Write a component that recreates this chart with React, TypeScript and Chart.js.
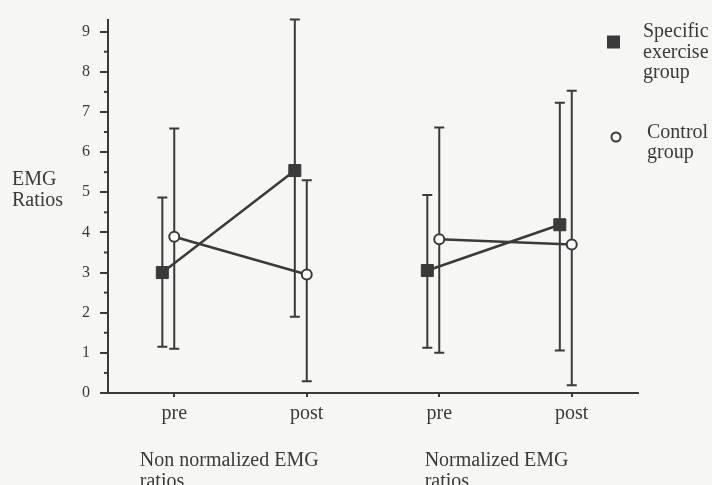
import React, { useEffect, useRef } from 'react';
import { Chart, registerables } from 'chart.js';

Chart.register(...registerables);

// ---- data ----
const categories = ['pre', 'post', 'pre', 'post'];
const groupLabels = [
  ['Non normalized EMG', 'ratios'],
  ['Normalized EMG', 'ratios'],
];
const yTitle = ['EMG', 'Ratios'];
const exerciseLabel = ['Specific', 'exercise', 'group'];
const controlLabel = ['Control', 'group'];
const yTicks = [0, 1, 2, 3, 4, 5, 6, 7, 8, 9];
const yMinorTicks = [0.5, 1.5, 2.5, 3.5, 4.5, 5.5, 6.5, 7.5, 8.5];

const exerciseMean = [3.0, 5.54, 3.05, 4.19];
const exerciseHigh = [4.87, 9.3, 4.93, 7.23];
const exerciseLow = [1.15, 1.9, 1.13, 1.06];

const controlMean = [3.89, 2.95, 3.83, 3.7];
const controlHigh = [6.59, 5.3, 6.61, 7.53];
const controlLow = [1.1, 0.29, 1.0, 0.19];

// ---- style ----
const INK = '#3a3a3a';
const BG = '#f6f6f4';
const FONT = '"Liberation Serif", "Times New Roman", serif';
const SQ_OFF = -0.09;
const GROUP_LABEL_X = [0.74, 2.89];

export default function App() {
  const ref = useRef<HTMLCanvasElement>(null);

  useEffect(() => {
    document.body.style.margin = '0';
    document.body.style.background = BG;
    const canvas = ref.current!;

    const overlay = {
      id: 'overlay',
      beforeDraw(chart: any) {
        const ctx = chart.ctx;
        ctx.save();
        ctx.fillStyle = BG;
        ctx.fillRect(0, 0, chart.width, chart.height);
        ctx.restore();
      },
      beforeDatasetsDraw(chart: any) {
        const ctx = chart.ctx;
        const xs = chart.scales.x;
        const ys = chart.scales.y;
        ctx.save();
        ctx.strokeStyle = INK;
        ctx.lineWidth = 2;
        const bars = (mean: number[], hi: number[], lo: number[], off: number) => {
          mean.forEach((_, i) => {
            const x = xs.getPixelForValue(i + 1 + off);
            const y1 = ys.getPixelForValue(hi[i]);
            const y2 = ys.getPixelForValue(lo[i]);
            ctx.beginPath();
            ctx.moveTo(x, y1);
            ctx.lineTo(x, y2);
            ctx.moveTo(x - 5, y1);
            ctx.lineTo(x + 5, y1);
            ctx.moveTo(x - 5, y2);
            ctx.lineTo(x + 5, y2);
            ctx.stroke();
          });
        };
        bars(exerciseMean, exerciseHigh, exerciseLow, SQ_OFF);
        bars(controlMean, controlHigh, controlLow, 0);
        // minor ticks on y axis
        const left = chart.chartArea.left;
        yMinorTicks.forEach((v) => {
          const y = ys.getPixelForValue(v);
          ctx.beginPath();
          ctx.moveTo(left - 4, y);
          ctx.lineTo(left, y);
          ctx.stroke();
        });
        ctx.restore();
      },
      afterDraw(chart: any) {
        const ctx = chart.ctx;
        const xs = chart.scales.x;
        ctx.save();
        ctx.fillStyle = INK;
        ctx.font = `20px ${FONT}`;
        ctx.textAlign = 'left';
        ctx.textBaseline = 'alphabetic';
        // y title
        ctx.fillText(yTitle[0], 12, 185);
        ctx.fillText(yTitle[1], 12, 205.5);
        // group labels
        groupLabels.forEach((lines, g) => {
          const x = xs.getPixelForValue(GROUP_LABEL_X[g]);
          lines.forEach((t, k) => ctx.fillText(t, x, 466 + k * 21));
        });
        // legend
        ctx.fillRect(607, 35.5, 13, 13);
        exerciseLabel.forEach((t, k) => ctx.fillText(t, 643, 37 + k * 20.5));
        ctx.beginPath();
        ctx.arc(616, 137, 4.5, 0, Math.PI * 2);
        ctx.fillStyle = '#ffffff';
        ctx.fill();
        ctx.lineWidth = 2;
        ctx.strokeStyle = INK;
        ctx.stroke();
        ctx.fillStyle = INK;
        controlLabel.forEach((t, k) => ctx.fillText(t, 647, 137.5 + k * 20));
        ctx.restore();
      },
    };

    const chart = new Chart(canvas, {
      type: 'line',
      data: {
        datasets: [
          {
            label: 'Specific exercise group',
            data: exerciseMean.map((y, i) => ({ x: i + 1 + SQ_OFF, y })),
            borderColor: INK,
            borderWidth: 2.5,
            pointStyle: 'rect',
            pointRadius: 8.5,
            pointBackgroundColor: INK,
            pointBorderColor: INK,
            pointBorderWidth: 1,
            fill: false,
            tension: 0,
            segment: {
              borderColor: (c: any) => (c.p0DataIndex === 1 ? 'rgba(0,0,0,0)' : INK),
            },
          },
          {
            label: 'Control group',
            data: controlMean.map((y, i) => ({ x: i + 1, y })),
            borderColor: INK,
            borderWidth: 2.5,
            pointStyle: 'circle',
            pointRadius: 5,
            pointBackgroundColor: '#ffffff',
            pointBorderColor: INK,
            pointBorderWidth: 2,
            fill: false,
            tension: 0,
            segment: {
              borderColor: (c: any) => (c.p0DataIndex === 1 ? 'rgba(0,0,0,0)' : INK),
            },
          },
        ],
      },
      options: {
        responsive: false,
        animation: false,
        devicePixelRatio: 1,
        layout: { padding: { top: 15, right: 74, left: 0, bottom: 0 } },
        plugins: { legend: { display: false }, tooltip: { enabled: false } },
        scales: {
          x: {
            type: 'linear',
            min: 0.5,
            max: 4.5,
            afterBuildTicks: (s: any) => {
              s.ticks = categories.map((_, i) => ({ value: i + 1 }));
            },
            afterFit: (s: any) => {
              s.height = 92;
            },
            ticks: {
              callback: (v: any) => categories[Math.round(Number(v)) - 1] ?? '',
              font: { family: FONT, size: 20 },
              color: INK,
              padding: 5,
              maxRotation: 0,
              autoSkip: false,
            },
            grid: { drawOnChartArea: false, tickLength: 4, color: INK, lineWidth: 2 },
            border: { color: INK, width: 2 },
          },
          y: {
            min: 0,
            max: 9.3,
            afterBuildTicks: (s: any) => {
              s.ticks = yTicks.map((v) => ({ value: v }));
            },
            afterFit: (s: any) => {
              s.width = 108;
            },
            ticks: {
              font: { family: FONT, size: 16 },
              color: INK,
              padding: 10,
            },
            grid: { drawOnChartArea: false, tickLength: 8, color: INK, lineWidth: 2 },
            border: { color: INK, width: 2 },
          },
        },
      },
      plugins: [overlay],
    } as any);

    return () => chart.destroy();
  }, []);

  return (
    <div style={{ position: 'absolute', left: 0, top: 0, width: 712, height: 485 }}>
      <canvas ref={ref} width={712} height={485} style={{ display: 'block', width: 712, height: 485 }} />
    </div>
  );
}
